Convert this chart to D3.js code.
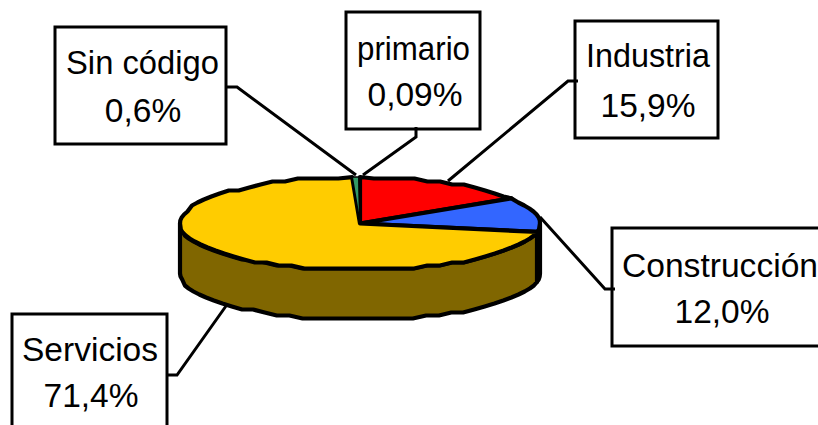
<!DOCTYPE html>
<html><head><meta charset="utf-8">
<script src="https://cdn.jsdelivr.net/npm/d3@7"></script>
<style>html,body{margin:0;padding:0;background:#fff;overflow:hidden}svg{display:block}text{font-family:"Liberation Sans",Arial,sans-serif;font-size:33.5px;fill:#000;text-anchor:middle}</style>
</head><body><svg id="c" width="818" height="425"></svg>
<script>
const categories=["Industria","Construcción","Servicios","Sin código","primario"];
const values=[15.9,12.0,71.4,0.6,0.09];
const valueLabels=["15,9%","12,0%","71,4%","0,6%","0,09%"];
const topColors=["#ff0000","#3366ff","#ffcc00","#339966","#339966"];
const sideColors=["#800000","#000000","#806600","#1a4d33","#1a4d33"];
const boxes=[[575,21,718,138],[612,228,830,346],[12,314,167,440],[55,27,226,144],[346,12,480,129]];
const textY=[[67,117],[277,323],[361,407],[74,122],[60,106]];
const labelX=[648,720,90,142.5,413.5];
const labelW=[124,196,136,153,113];
const valueX=[648,722,91,143,415];
const leaders=[[[578,81],[568,81],[448,181]],[[615,289],[605,289],[540,217]],[[167,375],[177,375],[226,306]],[[226,87],[237,87],[356,175]],[[416,127],[416,137],[363,175]]];

const svg=d3.select("#c");
const cx=360,cy=223.5,rx=180,ry=46.5,depth=50,facet=Math.PI/40,grid=3;
const px=a=>cx+rx*Math.sin(a), py=a=>cy-ry*Math.cos(a);
const snap=(v,o)=>o+Math.round((v-o)/grid)*grid;
const pie=d3.pie().sort(null).startAngle(0).endAngle(2*Math.PI)(values);
const line=d3.line();
function rimPts(a0,a1){
  // the rim is a polygon whose heights sit on a coarse grid, as in the stepped outline of the source picture
  const n=Math.max(1,Math.ceil((a1-a0)/facet));
  return d3.range(n+1).map(i=>{
    const a=a0+(a1-a0)*i/n;
    const end=i===0||i===n;
    return end?[px(a),py(a)]:[px(a),snap(py(a),cy)];
  });
}
function style(s,w){return s.attr("stroke","#000").attr("stroke-width",w).attr("stroke-linejoin","round");}
pie.forEach((d,i)=>{
  const a0=Math.max(d.startAngle,Math.PI/2),a1=Math.min(d.endAngle,3*Math.PI/2);
  if(a1<=a0)return;
  const upper=rimPts(a0,a1);
  const lower=upper.map(p=>[p[0],p[1]+depth]).reverse();
  style(svg.append("path").attr("d",line(upper.concat(lower))+"Z").attr("fill",sideColors[i]),4.2);
});
pie.forEach((d,i)=>{
  const thin=values[i]<1;
  const pts=[[cx,cy]].concat(rimPts(d.startAngle,d.endAngle));
  style(svg.append("path").attr("d",line(pts)+"Z").attr("fill",topColors[i]),thin?1.6:4.2);
});
categories.forEach((c,i)=>{
  const b=boxes[i];
  svg.append("rect").attr("x",b[0]).attr("y",b[1]).attr("width",b[2]-b[0]).attr("height",b[3]-b[1]).attr("fill","#fff").attr("stroke","#000").attr("stroke-width",3);
  svg.append("text").attr("x",labelX[i]).attr("y",textY[i][0]).attr("textLength",labelW[i]).attr("lengthAdjust","spacingAndGlyphs").text(c);
  svg.append("text").attr("x",valueX[i]).attr("y",textY[i][1]).text(valueLabels[i]);
});
leaders.forEach(l=>svg.append("path").attr("d",line(l)).attr("fill","none").attr("stroke","#000").attr("stroke-width",3));
</script></body></html>
